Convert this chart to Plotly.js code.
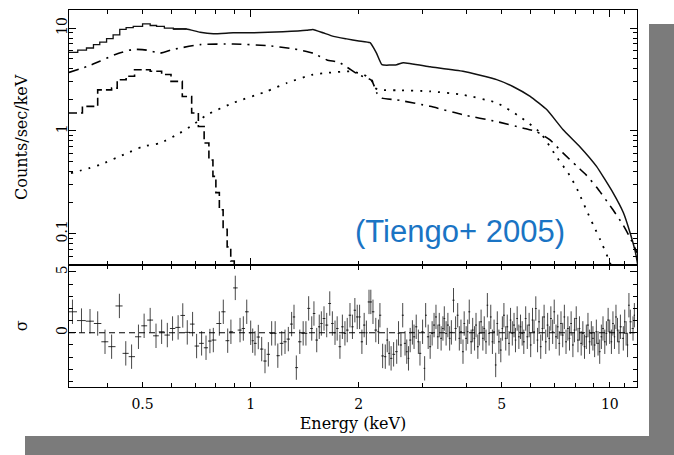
<!DOCTYPE html>
<html>
<head>
<meta charset="utf-8">
<script src="https://cdn.plot.ly/plotly-3.0.1.min.js"></script>
<style>
html,body{margin:0;padding:0;background:#fff;}
#chart{width:674px;height:455px;}
</style>
</head>
<body>
<div id="chart"></div>
<script>
// ---- Total model (solid) ----
const totalE = [0.312,0.33,0.349,0.365,0.38,0.397,0.414,0.432,0.45,0.471,0.5,0.525,0.547,0.575,0.609,0.663,0.723,0.787,0.894,1.015,1.23,1.43,1.49,1.59,1.70,1.85,2.0,2.15,2.24,2.32,2.55,2.66,3.16,3.9,4.84,5.37,6.0,6.68,7.4,8.25,9.18,10.2,10.9,11.4,11.8,11.95];
const totalV = [5.8,6.1,6.4,6.9,7.3,7.9,8.6,9.7,10.1,10.4,11.0,10.6,10.4,10.0,9.8,9.8,9.1,8.8,9.0,9.0,9.2,9.5,9.7,9.0,8.3,7.85,7.5,7.2,5.7,4.4,4.4,4.6,4.2,3.8,3.15,2.7,2.16,1.6,1.03,0.70,0.45,0.25,0.16,0.10,0.064,0.05];

// ---- Dashed component (step) ----
const dashE = [0.312,0.34,0.375,0.41,0.425,0.45,0.475,0.525,0.565,0.6,0.645,0.685,0.715,0.742,0.765,0.785,0.8,0.818,0.838,0.86,0.88,0.9];
const dashV = [1.49,1.73,2.5,2.6,3.14,3.4,3.93,3.8,3.53,3.03,2.16,1.49,1.1,0.76,0.52,0.36,0.25,0.17,0.11,0.074,0.054,0.04];

// ---- Dash-dot component ----
const ddE = [0.312,0.349,0.38,0.418,0.471,0.513,0.56,0.609,0.723,0.894,1.108,1.31,1.49,1.63,1.77,2.0,2.17,2.25,2.32,2.55,3.16,3.9,4.84,5.75,6.25,6.8,7.4,8.1,8.6,9.2,10.2,10.9,11.4,11.9];
const ddV = [3.7,4.2,4.75,5.5,6.2,6.1,5.7,6.2,6.9,7.0,6.75,6.3,5.7,4.9,4.6,3.5,3.1,2.3,2.08,2.0,1.73,1.43,1.23,1.06,0.98,0.82,0.61,0.45,0.37,0.28,0.17,0.12,0.09,0.065];

// ---- Dotted component ----
const dotE = [0.316,0.38,0.45,0.5,0.56,0.635,0.69,0.755,0.894,1.108,1.26,1.49,1.63,1.89,2.06,2.17,2.22,2.29,2.55,3.16,3.9,4.84,5.6,6.4,7.1,7.76,8.15,8.6,9.0,9.4,9.9,10.3];
const dotV = [0.386,0.466,0.6,0.7,0.76,0.95,1.14,1.43,1.87,2.42,2.92,3.53,3.66,3.79,3.53,3.14,2.6,2.5,2.48,2.42,2.24,1.87,1.38,0.96,0.56,0.36,0.26,0.17,0.12,0.087,0.057,0.04];

// ---- Residuals (sigma) ----
const resE = [0.319,0.338,0.357,0.375,0.393,0.41,0.431,0.449,0.466,0.487,0.505,0.525,0.545,0.565,0.586,0.606,0.628,0.647,0.666,0.689,0.707,0.73,0.751,0.77,0.787,0.818,0.839,0.863,0.881,0.906,0.934,0.954,0.975,1.0,1.013,1.028,1.05,1.073,1.096,1.12,1.144,1.17,1.19,1.22,1.246,1.273,1.3,1.32,1.34,1.37,1.4,1.425,1.45,1.479,1.5,1.527,1.552,1.573,1.6,1.628,1.66,1.688,1.717,1.741,1.772,1.8,1.83,1.857,1.89,1.92,1.95,1.98,2.01,2.04,2.07,2.1,2.135,2.16,2.19,2.23,2.27,2.29,2.33,2.37,2.4,2.43,2.46,2.5,2.55,2.58,2.62,2.65,2.69,2.72,2.75,2.78,2.82,2.85,2.89,2.93,2.96,3.01,3.05,3.07,3.12,3.16,3.2,3.24,3.28,3.32,3.35,3.39,3.43,3.46,3.5,3.54,3.58,3.62,3.67,3.72,3.77,3.81,3.85,3.9,3.93,3.98,4.02,4.06,4.11,4.15,4.2,4.24,4.29,4.33,4.38,4.43,4.47,4.52,4.56,4.61,4.66,4.71,4.76,4.81,4.86,4.91,4.97,5.02,5.07,5.13,5.18,5.24,5.29,5.35,5.41,5.46,5.52,5.58,5.64,5.7,5.76,5.83,5.89,5.96,6.02,6.09,6.15,6.22,6.29,6.35,6.42,6.49,6.56,6.63,6.71,6.78,6.85,6.93,7.0,7.08,7.16,7.23,7.31,7.39,7.47,7.55,7.64,7.72,7.8,7.89,7.97,8.06,8.15,8.23,8.32,8.41,8.5,8.6,8.69,8.78,8.88,8.97,9.07,9.17,9.27,9.37,9.47,9.57,9.68,9.78,9.89,9.99,10.1,10.2,10.3,10.4,10.5,10.6,10.7,10.9,11.0,11.1,11.2,11.3,11.4,11.6,11.7];
const resV = [1.72,1.0,0.95,0.76,-0.74,-1.14,2.2,-1.69,-1.96,-0.33,0.57,1.04,-0.25,0.08,-0.19,0.35,0.44,1.42,0.03,0.71,-1.09,-0.87,-1.23,-0.68,-0.6,0.76,1.72,-0.65,0.08,3.68,0.22,0.35,1.72,0,-0.65,-0.87,-0.35,-1.34,-2.32,-1.77,-0.05,-0.05,-1.88,-0.87,-0.74,-0.52,0.71,1.3,-2.86,-0.74,-0.05,-0.05,2.0,0.35,1.58,-0.6,0.49,0.76,1.17,0.63,2.4,0.76,0,0.35,-1.14,0.49,-0.05,0.22,1.44,0.49,1.85,1.3,1.3,-0.74,0.63,0,2.53,2.53,1.72,0.22,0.08,1.44,-1.9,-1.96,-0.6,-1.69,-2.1,-1.77,-1.55,-0.05,-1.0,1.44,-0.87,-1.55,-2.1,-0.6,0.03,-0.33,0.49,-0.74,-1.69,0.08,-2.92,1.44,-0.33,-1.14,-0.05,0.63,1.3,-0.33,0.63,-0.46,0.35,1.17,-0.05,0.63,-0.46,0.03,2.67,0.35,1.44,-0.46,0.08,-1.55,0.76,-0.46,0.08,1.72,-0.74,0.22,-0.46,0.63,-1.14,-0.05,0.9,-0.46,0.35,-0.74,2.26,-0.05,1.3,-0.74,0.08,-2.64,0.76,-0.74,-1.42,0.35,1.44,-0.46,0.49,-0.87,1.04,-0.05,0.63,-0.6,1.17,-0.33,0.49,-0.05,-0.74,1.17,-0.33,0.63,-1.0,1.04,0.08,1.99,-0.6,0.9,-1.14,0.35,1.3,-0.74,0.63,-0.46,1.17,0.08,1.72,-0.33,0.49,-0.87,0.76,-0.19,1.3,-0.74,0.35,-0.46,0.76,-1.0,0.22,1.17,-0.6,0.35,-0.87,-0.05,-1.14,-0.33,0.63,-0.74,-0.05,-0.46,-1.0,0.08,-0.87,-1.55,-0.33,0.35,-0.74,-0.05,1.04,0.08,-0.74,0.76,-0.33,1.3,0.22,-0.74,0.49,-0.46,0.9,-0.05,-1.0,2.26,0.9,0.35,1.44];

// ---- Tick labels ----
const xTickVals = [0.5,1,2,5,10];
const xTickText = ['0.5','1','2','5','10'];
const yTickVals = [0.1,1,10];
const yTickText = ['0.1','1','10'];
const sTickVals = [0,5];
const sTickText = ['0','5'];

// bin half-widths for residual crosses (geometric midpoints to neighbours)
const nRes = resE.length;
const errMinus = resE.map((e,i)=> {
  const prev = i===0 ? e*e/resE[1] : resE[i-1];
  return e - Math.sqrt(e*prev);
});
const errPlus = resE.map((e,i)=> {
  const next = i===nRes-1 ? e*e/resE[i-1] : resE[i+1];
  return Math.sqrt(e*next) - e;
});

const lowIdx = totalE.map((e,i)=>i).filter(i=>totalE[i] <= 0.663);
const highIdx = totalE.map((e,i)=>i).filter(i=>totalE[i] >= 0.609);

const serif = 'DejaVu Serif, Liberation Serif, serif';

const traces = [
  {x: lowIdx.map(i=>totalE[i]), y: lowIdx.map(i=>totalV[i]), mode:'lines', line:{color:'#111', width:1.3, shape:'hv'}, xaxis:'x', yaxis:'y', hoverinfo:'skip'},
  {x: highIdx.map(i=>totalE[i]), y: highIdx.map(i=>totalV[i]), mode:'lines', line:{color:'#111', width:1.5, shape:'spline', smoothing:0.4}, xaxis:'x', yaxis:'y', hoverinfo:'skip'},
  {x: dashE, y: dashV, mode:'lines', line:{color:'#000', width:1.6, shape:'hv', dash:'8px,4px'}, xaxis:'x', yaxis:'y'},
  {x: ddE, y: ddV, mode:'lines', line:{color:'#000', width:1.6, shape:'spline', smoothing:0.5, dash:'10px,6px,2px,6px'}, xaxis:'x', yaxis:'y'},
  {x: dotE, y: dotV, mode:'lines', line:{color:'#000', width:1.8, shape:'spline', smoothing:0.5, dash:'2px,7px'}, xaxis:'x', yaxis:'y'},
  {x: resE, y: resV, mode:'markers', marker:{size:1, color:'#222'}, xaxis:'x2', yaxis:'y2',
   error_y:{type:'constant', value:1, thickness:1, width:0, color:'rgba(40,40,40,0.85)'},
   error_x:{type:'data', symmetric:false, array:errPlus, arrayminus:errMinus, thickness:1, width:0, color:'rgba(30,30,30,0.9)'}}
];

const xr = [Math.log10(0.312), Math.log10(11.9)];
const xMinor = [0.4,0.6,0.7,0.8,0.9,3,4,6,7,8,9,11];
const yMinor = [0.06,0.07,0.08,0.09,0.2,0.3,0.4,0.5,0.6,0.7,0.8,0.9,2,3,4,5,6,7,8,9];
const split = (387-264.5)/377;

const axCommon = {showline:true, linecolor:'#000', linewidth:1, mirror:'ticks', ticks:'inside', tickcolor:'#000', tickwidth:1, showgrid:false, zeroline:false};

const layout = {
  width:674, height:455,
  margin:{l:69, r:37, t:10, b:68},
  paper_bgcolor:'#fff', plot_bgcolor:'#fff',
  showlegend:false,
  font:{family:serif, size:14, color:'#000'},
  xaxis: Object.assign({}, axCommon, {type:'log', range:xr, anchor:'y', tickmode:'array', tickvals:[1,10], ticklen:7, showticklabels:false,
    minor:{tickmode:'array', tickvals:xMinor.concat([0.5,2,5]), ticklen:4, ticks:'inside', tickcolor:'#000', tickwidth:1, showgrid:false}}),
  xaxis2: Object.assign({}, axCommon, {type:'log', range:xr, anchor:'y2', matches:'x', tickmode:'array', tickvals:xTickVals, ticktext:xTickText, ticklen:5,
    tickfont:{family:serif, size:14}, ticklabelstandoff:4,
    minor:{tickmode:'array', tickvals:xMinor, ticklen:4, ticks:'inside', tickcolor:'#000', tickwidth:1, showgrid:false},
    title:{text:'Energy (keV)', font:{family:serif, size:16}, standoff:7}}),
  yaxis: Object.assign({}, axCommon, {type:'log', domain:[split,1], range:[-1.302,1.176], anchor:'x', tickmode:'array', tickvals:yTickVals, ticktext:yTickText, ticklen:7, tickangle:-90,
    tickfont:{family:serif, size:14}, ticklabelstandoff:-5,
    minor:{tickmode:'array', tickvals:yMinor, ticklen:4, ticks:'inside', tickcolor:'#000', tickwidth:1, showgrid:false},
    title:{text:'Counts/sec/keV', font:{family:serif, size:16}, standoff:22}}),
  yaxis2: Object.assign({}, axCommon, {domain:[0,split], range:[-4.45,5.6], anchor:'x2', tickmode:'array', tickvals:sTickVals, ticktext:sTickText, ticklen:7, tickangle:-90,
    tickfont:{family:serif, size:14}, ticklabelstandoff:-5,
    minor:{dtick:1, ticklen:4, ticks:'inside', tickcolor:'#000', tickwidth:1, showgrid:false},
    title:{text:'σ', font:{family:serif, size:16}, standoff:22}}),
  shapes:[
    {type:'line', xref:'paper', yref:'y2', x0:0, x1:1, y0:0, y1:0, line:{color:'#000', width:1, dash:'6px,4px'}},
    {type:'rect', xref:'paper', yref:'paper', x0:(649-69)/568, x1:(674-69)/568, y0:(387-455)/377, y1:(387-24)/377, fillcolor:'#7b7b7b', line:{width:0}},
    {type:'rect', xref:'paper', yref:'paper', x0:(25-69)/568, x1:(674-69)/568, y0:(387-455)/377, y1:(387-436)/377, fillcolor:'#7b7b7b', line:{width:0}}
  ],
  annotations:[
    {text:'(Tiengo+ 2005)', xref:'paper', yref:'paper', x:(460-69)/568, y:(387-231)/377, xanchor:'center', yanchor:'middle', showarrow:false,
     font:{family:'Liberation Sans, Arial, sans-serif', size:31, color:'#1a74c4'}}
  ]
};

Plotly.newPlot('chart', traces, layout, {displayModeBar:false, staticPlot:true});
</script>
</body>
</html>
